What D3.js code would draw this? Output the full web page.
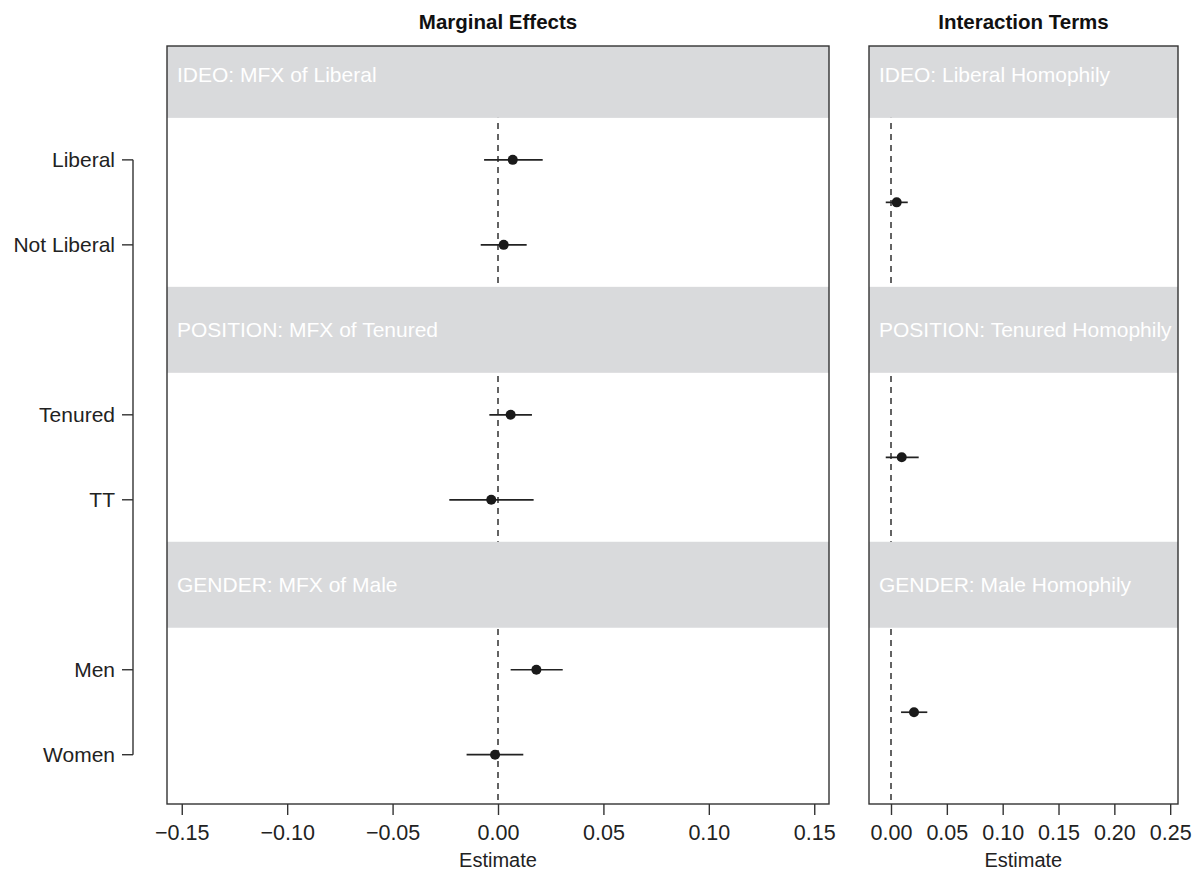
<!DOCTYPE html>
<html>
<head>
<meta charset="utf-8">
<script src="https://cdn.jsdelivr.net/npm/d3@7"></script>
<style>
  body { margin: 0; background: #fff; }
  svg { font-family: "Liberation Sans", Arial, Helvetica, sans-serif; }
</style>
</head>
<body>
<div id="chart"></div>
<script>
// rows in each panel: strip title, then two categories
const categories = ["Liberal", "Not Liberal", "Tenured", "TT", "Men", "Women"];
const categoryRows = [1, 2, 4, 5, 7, 8];
const stripRows = [0, 3, 6];
const mfxTitles = ["IDEO: MFX of Liberal", "POSITION: MFX of Tenured", "GENDER: MFX of Male"];
const interTitles = ["IDEO: Liberal Homophily", "POSITION: Tenured Homophily", "GENDER: Male Homophily"];

// marginal effects (estimate + interval)
const mfxEst = [0.0070, 0.0027, 0.0060, -0.0032, 0.0182, -0.0014];
const mfxLo  = [-0.0066, -0.0082, -0.0041, -0.0231, 0.0060, -0.0149];
const mfxHi  = [0.0212, 0.0136, 0.0161, 0.0169, 0.0307, 0.0120];

// interaction terms
const interRows = [1.5, 4.5, 7.5];
const interEst = [0.0051, 0.0096, 0.0206];
const interLo  = [-0.0047, -0.0047, 0.0090];
const interHi  = [0.0150, 0.0248, 0.0325];

const mfxTicks = [-0.15, -0.10, -0.05, 0, 0.05, 0.10, 0.15];
const interTicks = [0, 0.05, 0.10, 0.15, 0.20, 0.25];

const W = 1194, H = 873;
const panelTop = 46, panelBottom = 804;

const svg = d3.select("#chart").append("svg")
    .attr("width", W)
    .attr("height", H);

const y = d3.scaleLinear().domain([-0.34, 8.58]).range([panelTop, panelBottom]);
const rowH = y(1) - y(0);

function drawPanel(opts) {
    const x = d3.scaleLinear().domain(opts.domain).range([opts.left, opts.right]);
    const g = svg.append("g");

    // title
    g.append("text")
        .attr("x", (opts.left + opts.right) / 2)
        .attr("y", 29)
        .attr("text-anchor", "middle")
        .style("font-size", "20.5px")
        .style("font-weight", "bold")
        .attr("fill", "#111")
        .text(opts.title);

    // zero reference line
    g.append("line")
        .attr("x1", x(0)).attr("x2", x(0))
        .attr("y1", panelTop).attr("y2", panelBottom)
        .attr("stroke", "#222")
        .attr("stroke-width", 1.4)
        .attr("stroke-dasharray", "6,5");

    // strips
    const strips = g.selectAll("g.strip")
        .data(stripRows.map((r, i) => ({ row: r, label: opts.titles[i] })))
        .join("g");
    strips.append("rect")
        .attr("x", opts.left)
        .attr("width", opts.right - opts.left)
        .attr("y", d => Math.max(panelTop, y(d.row) - rowH / 2 - 0.5))
        .attr("height", d => y(d.row) + rowH / 2 + 0.5 - Math.max(panelTop, y(d.row) - rowH / 2 - 0.5))
        .attr("fill", "#d9dadc");
    strips.append("text")
        .attr("x", opts.left + 10)
        .attr("y", d => y(d.row))
        .attr("dy", "0.35em")
        .attr("fill", "#fff")
        .style("font-size", "21px")
        .text(d => d.label);

    // error bars and points
    const pts = opts.est.map((e, i) => ({ e: e, lo: opts.lo[i], hi: opts.hi[i], row: opts.rows[i] }));
    g.selectAll("line.ci")
        .data(pts)
        .join("line")
        .attr("class", "ci")
        .attr("x1", d => x(d.lo)).attr("x2", d => x(d.hi))
        .attr("y1", d => y(d.row)).attr("y2", d => y(d.row))
        .attr("stroke", "#222")
        .attr("stroke-width", 1.7);
    g.selectAll("circle")
        .data(pts)
        .join("circle")
        .attr("cx", d => x(d.e))
        .attr("cy", d => y(d.row))
        .attr("r", 5)
        .attr("fill", "#1a1a1a");

    // frame
    g.append("rect")
        .attr("x", opts.left).attr("y", panelTop)
        .attr("width", opts.right - opts.left)
        .attr("height", panelBottom - panelTop)
        .attr("fill", "none")
        .attr("stroke", "#333")
        .attr("stroke-width", 1.4);

    // x axis
    const ax = g.append("g")
        .attr("transform", `translate(0,${panelBottom})`)
        .call(d3.axisBottom(x).tickValues(opts.ticks).tickFormat(d3.format(".2f")).tickSize(11).tickPadding(10));
    ax.select(".domain").remove();
    ax.selectAll("line").attr("stroke", "#333").attr("stroke-width", 1.4);
    ax.selectAll("text").style("font-size", "21.5px").attr("fill", "#222");

    g.append("text")
        .attr("x", x(opts.labelAt))
        .attr("y", 867)
        .attr("text-anchor", "middle")
        .style("font-size", "20px")
        .attr("fill", "#222")
        .text("Estimate");
    return x;
}

drawPanel({
    title: "Marginal Effects", titles: mfxTitles,
    domain: [-0.157, 0.157], left: 167, right: 829,
    est: mfxEst, lo: mfxLo, hi: mfxHi, rows: categoryRows,
    ticks: mfxTicks, labelAt: 0
});

drawPanel({
    title: "Interaction Terms", titles: interTitles,
    domain: [-0.0197, 0.257], left: 869, right: 1178,
    est: interEst, lo: interLo, hi: interHi, rows: interRows,
    ticks: interTicks, labelAt: 0.1185
});

// left category axis
const yAxis = svg.append("g");
yAxis.append("line")
    .attr("x1", 133).attr("x2", 133)
    .attr("y1", y(categoryRows[0])).attr("y2", y(categoryRows[categoryRows.length - 1]))
    .attr("stroke", "#333").attr("stroke-width", 1.4);
yAxis.selectAll("line.tick")
    .data(categoryRows)
    .join("line")
    .attr("class", "tick")
    .attr("x1", 122).attr("x2", 133)
    .attr("y1", d => y(d)).attr("y2", d => y(d))
    .attr("stroke", "#333").attr("stroke-width", 1.4);
yAxis.selectAll("text")
    .data(categories)
    .join("text")
    .attr("x", 115)
    .attr("y", (d, i) => y(categoryRows[i]))
    .attr("dy", "0.35em")
    .attr("text-anchor", "end")
    .style("font-size", "21px")
    .attr("fill", "#222")
    .text(d => d);
</script>
</body>
</html>
